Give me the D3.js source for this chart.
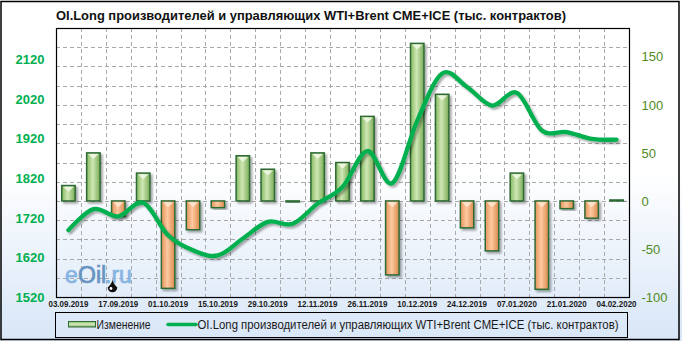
<!DOCTYPE html>
<meta charset="utf-8">
<head>
<script src="https://cdn.jsdelivr.net/npm/d3@7"></script>
<style>
body { margin: 0; background: #fff; }
svg { display: block; font-family: "Liberation Sans", Arial, sans-serif; }
</style>
</head>
<body>
<svg></svg>
<script>

// weekly report dates
const dates = ["03.09.2019", "10.09.2019", "17.09.2019", "24.09.2019", "01.10.2019", "08.10.2019",
  "15.10.2019", "22.10.2019", "29.10.2019", "05.11.2019", "12.11.2019", "19.11.2019", "26.11.2019",
  "03.12.2019", "10.12.2019", "17.12.2019", "24.12.2019", "31.12.2019", "07.01.2020", "14.01.2020",
  "21.01.2020", "28.01.2020", "04.02.2020"];

// weekly change (right axis)
const changes = [16, 50, -16, 29, -91, -30, -7, 47, 33, -1, 50, 40, 88, -77, 164, 111, -28, -52, 29, -92, -8, -18, 1];

// OI long (left axis)
const oiLong = [1689, 1742, 1724, 1758, 1676, 1638, 1625, 1668, 1710, 1705, 1756, 1798, 1889, 1808,
  1966, 2085, 2051, 2004, 2036, 1941, 1937, 1920, 1918];

const leftTicks = [1520, 1620, 1720, 1820, 1920, 2020, 2120];
const rightTicks = [-100, -50, 0, 50, 100, 150];
const gridTicks = [-80, -60, -40, -20, 0, 20, 40, 60, 80, 100, 120, 140, 160];
const xLabels = dates.filter((d, i) => i % 2 === 0);

const title = "OI.Long производителей и управляющих WTI+Brent CME+ICE (тыс. контрактов)";
const legendBar = "Изменение";
const legendLine = "OI.Long производителей и управляющих WTI+Brent CME+ICE  (тыс. контрактов)";

const W = 682, H = 341;
const plot = {left: 56, right: 629, top: 28, bottom: 297};

const svg = d3.select("svg").attr("width", W).attr("height", H);
const defs = svg.append("defs");

// background gradient
const bg = defs.append("linearGradient").attr("id", "bg").attr("x1", 0).attr("x2", 0).attr("y1", 0).attr("y2", 1);
bg.append("stop").attr("offset", 0).attr("stop-color", "#ffffff");
bg.append("stop").attr("offset", 0.5).attr("stop-color", "#ffffff");
bg.append("stop").attr("offset", 1).attr("stop-color", "#d8e6f7");

function hGrad(id, a, b, c) {
  const g = defs.append("linearGradient").attr("id", id).attr("x1", 0).attr("x2", 1).attr("y1", 0).attr("y2", 0);
  g.append("stop").attr("offset", 0).attr("stop-color", a);
  g.append("stop").attr("offset", 0.45).attr("stop-color", b);
  g.append("stop").attr("offset", 1).attr("stop-color", c);
}
hGrad("gGreen", "#86ba60", "#cfe7b5", "#79ab55");
hGrad("gOrange", "#e5935a", "#fdc9a0", "#db8a4c");

const lg = defs.append("linearGradient").attr("id", "gLegend").attr("x1", 0).attr("x2", 0).attr("y1", 0).attr("y2", 1);
lg.append("stop").attr("offset", 0).attr("stop-color", "#8abd64");
lg.append("stop").attr("offset", 0.5).attr("stop-color", "#d6ebc0");
lg.append("stop").attr("offset", 1).attr("stop-color", "#7fb05a");

const sh = defs.append("filter").attr("id", "shadow").attr("x", "-30%").attr("y", "-30%").attr("width", "160%").attr("height", "160%");
sh.append("feDropShadow").attr("dx", 2).attr("dy", 2).attr("stdDeviation", 1.3)
  .attr("flood-color", "#000").attr("flood-opacity", 0.35);

svg.append("rect").attr("x", 0).attr("y", 0).attr("width", W).attr("height", H).attr("fill", "url(#bg)");

// scales
const x = d3.scaleBand().domain(dates).range([plot.left, plot.right]).paddingInner(0.46).paddingOuter(0.23);
const yR = d3.scaleLinear().domain([-100, 180]).range([plot.bottom, plot.top]);
const yL = d3.scaleLinear().domain([1520, 2200]).range([plot.bottom, plot.top]);
const step = x.step();

// title
svg.append("text")
  .attr("x", 56).attr("y", 19.5)
  .attr("font-size", 13).attr("font-weight", "bold").attr("fill", "#111")
  .attr("textLength", 510).attr("lengthAdjust", "spacingAndGlyphs")
  .text(title);

// grid
const grid = svg.append("g").attr("stroke", "#a9a9a9").attr("stroke-dasharray", "4,3").attr("stroke-width", 1);
grid.selectAll(".hg").data(gridTicks).join("line")
  .attr("x1", plot.left).attr("x2", plot.right)
  .attr("y1", d => Math.round(yR(d)) + 0.5).attr("y2", d => Math.round(yR(d)) + 0.5);
grid.selectAll(".vg").data(dates.slice(1)).join("line")
  .attr("x1", d => Math.round(x(d) - (step - x.bandwidth()) / 2) + 0.5)
  .attr("x2", d => Math.round(x(d) - (step - x.bandwidth()) / 2) + 0.5)
  .attr("y1", plot.top).attr("y2", plot.bottom);

// watermark: eOil.ru
const wm = svg.append("g").attr("font-size", 23).attr("stroke-width", 0.7);
wm.append("text").attr("x", 65).attr("y", 283).attr("fill", "#86b4e2").attr("stroke", "#86b4e2").text("e");
wm.append("text").attr("x", 78).attr("y", 283).attr("fill", "#6894c2").attr("stroke", "#6894c2").text("Oil");
wm.append("text").attr("x", 105).attr("y", 283).attr("fill", "#86b4e2").attr("stroke", "#86b4e2").text(".ru");
wm.append("path").attr("d", "M112.5,279 Q112.5,283 117.3,287.5 A4.8,4.8 0 1 1 107.7,287.5 Q112.5,283 112.5,279 Z").attr("fill", "#111");
wm.append("circle").attr("cx", 111).attr("cy", 288.5).attr("r", 1.4).attr("fill", "#fff");

// bars
const barData = changes.map((v, i) => ({date: dates[i], v: v}));
const bars = svg.append("g").selectAll(".bar").data(barData).join("g")
  .attr("class", "bar").attr("filter", "url(#shadow)");

bars.append("rect")
  .attr("x", d => x(d.date))
  .attr("y", d => yR(Math.max(0, d.v)))
  .attr("width", x.bandwidth())
  .attr("height", d => Math.max(0.5, Math.abs(yR(d.v) - yR(0))))
  .attr("fill", d => d.v >= 0 ? "url(#gGreen)" : "url(#gOrange)")
  .attr("stroke", "#2e6a36").attr("stroke-width", 1.5);

bars.filter(d => Math.abs(yR(d.v) - yR(0)) > 8)
  .append("path")
  .attr("d", d => {
    const x0 = x(d.date) + 1.5, x1 = x(d.date) + x.bandwidth() - 1.5;
    const top = yR(Math.max(0, d.v)) + 1.2;
    return `M${x0},${top}L${x1},${top}L${(x0 + x1) / 2},${top + 5}Z`;
  })
  .attr("fill", d => d.v >= 0 ? "#eef7e4" : "#fee6d2")
  .attr("opacity", 0.9);

// line
const line = d3.line()
  .x((d, i) => x(dates[i]) + x.bandwidth() / 2)
  .y(d => yL(d))
  .curve(d3.curveCardinal.tension(0));

svg.append("path")
  .datum(oiLong)
  .attr("d", line)
  .attr("fill", "none")
  .attr("stroke", "#00b050")
  .attr("stroke-width", 4.3)
  .attr("stroke-linecap", "round")
  .attr("filter", "url(#shadow)");

// plot border
svg.append("rect")
  .attr("x", plot.left + 0.5).attr("y", plot.top + 0.5)
  .attr("width", plot.right - plot.left).attr("height", plot.bottom - plot.top)
  .attr("fill", "none").attr("stroke", "#000").attr("stroke-width", 1.2);

// left axis
const axL = svg.append("g").attr("transform", `translate(${plot.left},0)`)
  .call(d3.axisLeft(yL).tickValues(leftTicks).tickSize(0).tickPadding(11.5).tickFormat(d3.format("d")));
axL.select(".domain").remove();
axL.selectAll("text").attr("font-size", 13).attr("font-weight", "bold").attr("fill", "#00b050")
  .attr("font-family", "Liberation Sans, Arial, sans-serif");

// right axis
const axR = svg.append("g").attr("transform", `translate(${plot.right},0)`)
  .call(d3.axisRight(yR).tickValues(rightTicks).tickSize(0).tickPadding(12.5).tickFormat(d => d < 0 ? "-" + Math.abs(d) : d));
axR.select(".domain").remove();
axR.selectAll("text").attr("font-size", 13).attr("fill", "#4f8a24")
  .attr("font-family", "Liberation Sans, Arial, sans-serif");

// x axis
const axX = svg.append("g").attr("transform", `translate(0,${plot.bottom})`)
  .call(d3.axisBottom(x).tickValues(xLabels).tickSize(0).tickPadding(4));
axX.select(".domain").remove();
axX.selectAll("text").attr("font-size", 8.5).attr("font-weight", "bold").attr("fill", "#1a1a1a")
  .attr("font-family", "Liberation Sans, Arial, sans-serif")
  .attr("textLength", 40).attr("lengthAdjust", "spacingAndGlyphs");

// legend
const leg = svg.append("g");
leg.append("rect").attr("x", 55.5).attr("y", 312.5).attr("width", 572).attr("height", 25)
  .attr("fill", "none").attr("stroke", "#000").attr("stroke-width", 1);
leg.append("rect").attr("x", 68.5).attr("y", 321.5).attr("width", 27).attr("height", 5.5)
  .attr("fill", "url(#gLegend)").attr("stroke", "#2e6a36").attr("stroke-width", 1);
leg.append("text").attr("x", 96.5).attr("y", 328.5).attr("font-size", 12).attr("fill", "#1a1a1a")
  .attr("textLength", 54).attr("lengthAdjust", "spacingAndGlyphs").text(legendBar);
leg.append("line").attr("x1", 168).attr("x2", 196).attr("y1", 324.5).attr("y2", 324.5)
  .attr("stroke", "#00b050").attr("stroke-width", 3.5).attr("stroke-linecap", "round");
leg.append("text").attr("x", 197.5).attr("y", 328.5).attr("font-size", 12).attr("fill", "#1a1a1a")
  .attr("textLength", 421).attr("lengthAdjust", "spacingAndGlyphs").text(legendLine);

// outer border
svg.append("rect").attr("x", 1).attr("y", 1.5).attr("width", 678).attr("height", 338)
  .attr("fill", "none").attr("stroke", "#000").attr("stroke-width", 1.5);

</script>
</body>
